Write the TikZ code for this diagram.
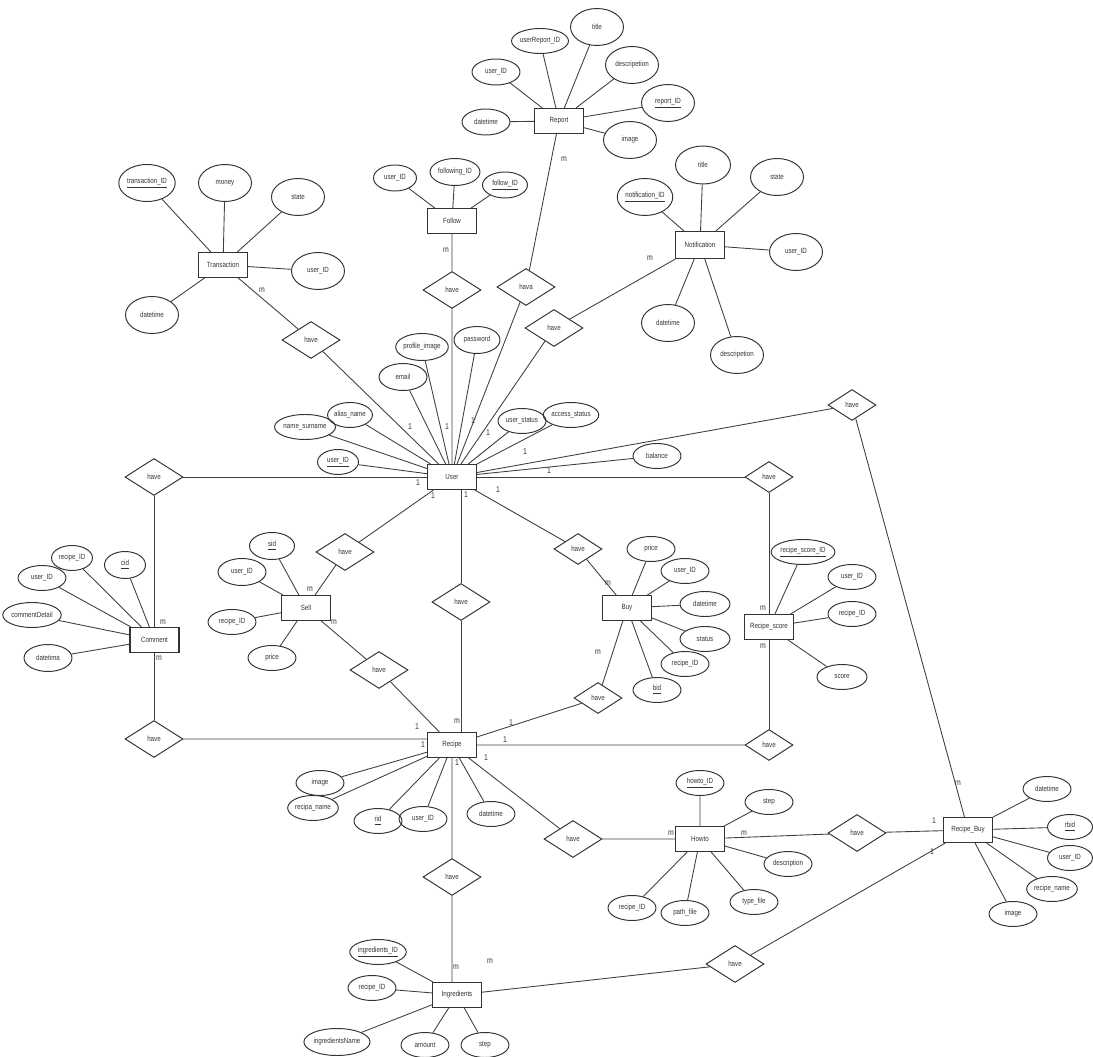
\documentclass[tikz,border=0pt]{standalone}
\usepackage{fontspec}
\usepackage{tikz}
\usetikzlibrary{shapes.geometric}
\newfontfamily\erfont[FakeStretch=0.82]{Liberation Sans}
\newcommand{\pk}[1]{\underline{#1}}

\begin{document}
\begin{tikzpicture}[x=0.02cm,y=-0.02cm,
    every node/.style={font=\erfont\fontsize{4.3}{5}\selectfont,text=black!80},
    entity/.style={draw=black!80,line width=0.6pt,rectangle,
                   minimum width=0.98cm,minimum height=0.5cm,inner sep=0pt},
    attr/.style={draw=black!80,line width=0.55pt,ellipse,
                 minimum width=0.96cm,minimum height=0.5cm,inner sep=0pt},
    bigattr/.style={attr,minimum width=1.06cm,minimum height=0.74cm},
    rel/.style={draw=black!80,line width=0.55pt,diamond,
                minimum width=1.16cm,minimum height=0.74cm,inner sep=0pt},
    smallrel/.style={rel,minimum width=0.96cm,minimum height=0.62cm},
    card/.style={inner sep=0pt,font=\erfont\fontsize{4.8}{5}\selectfont},
    conn/.style={draw=black!75,line width=0.5pt}]
  \useasboundingbox (0,0) rectangle (1093,1057);

  % Transaction
  \node[entity](trans) at (223,265){Transaction};
  \node[bigattr](transid) at (147,183){\pk{transaction\_ID}};
  \node[bigattr](transmoney) at (225,183){money};
  \node[bigattr](transstate) at (298,197){state};
  \node[bigattr](transuser) at (318,271){user\_ID};
  \node[bigattr](transdate) at (152,315){datetime};
  \node[rel](htrans) at (311,340){have};
  \draw[conn](trans)--(transid) (trans)--(transmoney) (trans)--(transstate)
    (trans)--(transuser) (trans)--(transdate) (trans)--(htrans);

  % Report
  \node[entity](report) at (559,121){Report};
  \node[attr,minimum height=0.52cm](repuser) at (496,72){user\_ID};
  \node[attr,minimum width=0.98cm](repuid) at (540,41){userReport\_ID};
  \node[bigattr](reptitle) at (597,27){title};
  \node[bigattr](repdesc) at (632,65){descripetion};
  \node[bigattr](repid) at (668,103){\pk{report\_ID}};
  \node[bigattr](repimg) at (630,140){image};
  \node[attr,minimum height=0.52cm](repdate) at (486,122){datetime};
  \node[rel](hreport) at (526,287){hava};
  \draw[conn](report)--(repuser) (report)--(repuid) (report)--(reptitle)
    (report)--(repdesc) (report)--(repid) (report)--(repimg)
    (report)--(repdate) (report)--(hreport);

  % Follow
  \node[entity](follow) at (452,221){Follow};
  \node[attr,minimum width=0.86cm,minimum height=0.52cm](foluser) at (395,178){user\_ID};
  \node[attr,minimum width=1cm,minimum height=0.54cm](folingid) at (455,172){following\_ID};
  \node[attr,minimum width=0.9cm,minimum height=0.52cm](folid) at (505,185){\pk{follow\_ID}};
  \node[rel](hfollow) at (452,290){have};
  \draw[conn](follow)--(foluser) (follow)--(folingid) (follow)--(folid)
    (follow)--(hfollow);

  % Notification
  \node[entity,minimum height=0.54cm](notif) at (700,245){Notification};
  \node[bigattr](notifid) at (645,197){\pk{notification\_ID}};
  \node[bigattr,minimum width=1.1cm,minimum height=0.76cm](notiftitle) at (703,165){title};
  \node[bigattr](notifstate) at (777,177){state};
  \node[bigattr](notifuser) at (796,252){user\_ID};
  \node[bigattr](notifdate) at (668,323){datetime};
  \node[bigattr](notifdesc) at (737,355){descripetion};
  \node[rel](hnotif) at (554,328){have};
  \draw[conn](notif)--(notifid) (notif)--(notiftitle) (notif)--(notifstate)
    (notif)--(notifuser) (notif)--(notifdate) (notif)--(notifdesc)
    (notif)--(hnotif);

  % User
  \node[entity](user) at (452,477){User};
  \node[attr](username) at (305,427){name\_surname};
  \node[attr,minimum width=0.82cm](useralias) at (350,415){alias\_name};
  \node[attr,minimum width=0.82cm](userid) at (338,462){\pk{user\_ID}};
  \node[attr,minimum height=0.54cm](usermail) at (403,377){email};
  \node[attr,minimum height=0.54cm](userimg) at (422,347){profile\_image};
  \node[attr,minimum width=0.92cm,minimum height=0.54cm](userpass) at (477,340){password};
  \node[attr](userstat) at (522,421){user\_status};
  \node[attr](useracc) at (571,415){access\_status};
  \node[attr](userbal) at (657,456){balance};
  \draw[conn](user)--(username) (user)--(useralias) (user)--(userid)
    (user)--(usermail) (user)--(userimg) (user)--(userpass)
    (user)--(userstat) (user)--(useracc) (user)--(userbal);
  \draw[conn](user)--(htrans) (user)--(hreport) (user)--(hnotif)
    (user)--(hfollow);

  % Comment
  \node[rel](hcom) at (154,477){have};
  \node[entity](comment) at (154.5,640){Comment};
  \node[attr](comuser) at (42,578){user\_ID};
  \node[attr,minimum width=0.82cm](comrecipe) at (72,558){recipe\_ID};
  \node[attr,minimum width=0.82cm,minimum height=0.54cm](comid) at (125,565){\pk{cid}};
  \node[attr](comdetail) at (32,615){commentDetail};
  \node[attr,minimum height=0.54cm](comdate) at (48,658){datetima};
  \node[rel](hcr) at (154,739){have};
  \draw[conn](comment)--(comuser) (comment)--(comrecipe) (comment)--(comid)
    (comment)--(comdetail) (comment)--(comdate);
  \draw[conn](user)--(hcom) (hcom)--(hcom |- comment.north)
    (comment.south -| hcr)--(hcr);

  % Sell
  \node[rel](hsell) at (345,552){have};
  \node[entity](sell) at (306,608){Sell};
  \node[attr,minimum width=0.9cm,minimum height=0.54cm](sellid) at (272,546){\pk{sid}};
  \node[attr,minimum height=0.54cm](selluser) at (242,572){user\_ID};
  \node[attr](sellrecipe) at (232,622){recipe\_ID};
  \node[attr](sellprice) at (272,658){price};
  \node[rel](hsr) at (379,670){have};
  \draw[conn](sell)--(sellid) (sell)--(selluser) (sell)--(sellrecipe)
    (sell)--(sellprice);
  \draw[conn](user)--(hsell) (hsell)--(sell) (sell)--(hsr);

  % Buy
  \node[smallrel](hbuy) at (578,549){have};
  \node[entity](buy) at (627,608){Buy};
  \node[attr](buyprice) at (651,549){price};
  \node[attr](buyuser) at (685,571){user\_ID};
  \node[attr,minimum width=1cm](buydate) at (705,604){datetime};
  \node[attr,minimum width=1cm](buystat) at (705,639){status};
  \node[attr](buyrecipe) at (685,664){recipe\_ID};
  \node[attr](buyid) at (657,690){\pk{bid}};
  \node[smallrel](hbr) at (598,698){have};
  \draw[conn](buy)--(buyprice) (buy)--(buyuser) (buy)--(buydate)
    (buy)--(buystat) (buy)--(buyrecipe) (buy)--(buyid);
  \draw[conn](user)--(hbuy) (hbuy)--(buy) (buy)--(hbr);

  % Recipe_score
  \node[smallrel](hrs) at (769,477){have};
  \node[entity](rscore) at (769,627){Recipe\_score};
  \node[attr](rsid) at (803,552){\pk{recipe\_score\_ID}};
  \node[attr](rsuser) at (852,577){user\_ID};
  \node[attr](rsrecipe) at (852,614){recipe\_ID};
  \node[attr,minimum width=1cm](rsscore) at (842,677){score};
  \node[smallrel](hrr) at (769,745){have};
  \draw[conn](rscore)--(rsid) (rscore)--(rsuser) (rscore)--(rsrecipe)
    (rscore)--(rsscore);
  \draw[conn](user)--(hrs) (hrs)--(rscore) (rscore)--(hrr);

  % Recipe
  \node[entity](recipe) at (452,745){Recipe};
  \node[attr](recimg) at (320,783){image};
  \node[attr](recname) at (313,808){recipa\_name};
  \node[attr](recid) at (378,821){\pk{rid}};
  \node[attr](recuser) at (423,819){user\_ID};
  \node[attr](recdate) at (491,814){datetime};
  \node[rel](hur) at (461,602){have};
  \draw[conn](recipe)--(recimg) (recipe)--(recname) (recipe)--(recid)
    (recipe)--(recuser) (recipe)--(recdate);
  \draw[conn](user.south -| hur)--(hur) (hur)--(recipe.north -| hur);
  \draw[conn](hsr)--(recipe) (hbr)--(recipe) (hcr)--(hcr -| recipe.west)
    (hrr)--(hrr -| recipe.east);

  % Howto
  \node[rel](hrh) at (573,839){have};
  \node[entity](howto) at (700,839){Howto};
  \node[attr](howid) at (700,783){\pk{howto\_ID}};
  \node[attr](howstep) at (769,802){step};
  \node[attr](howdesc) at (788,864){description};
  \node[attr](howtype) at (754,902){type\_file};
  \node[attr](howpath) at (685,913){path\_file};
  \node[attr](howrecipe) at (632,908){recipe\_ID};
  \draw[conn](howto)--(howid) (howto)--(howstep) (howto)--(howdesc)
    (howto)--(howtype) (howto)--(howpath) (howto)--(howrecipe);
  \draw[conn](recipe)--(hrh) (hrh)--(howto);

  % Recipe_Buy
  \node[rel](hhb) at (857,833){have};
  \node[entity](rbuy) at (968,830){Recipe\_Buy};
  \node[attr](rbdate) at (1047,789){datetime};
  \node[attr,minimum width=0.9cm](rbid) at (1070,827){\pk{rbid}};
  \node[attr,minimum width=0.9cm](rbuser) at (1070,858){user\_ID};
  \node[attr](rbname) at (1052,889){recipe\_name};
  \node[attr](rbimg) at (1013,914){image};
  \node[smallrel](hub) at (852,405){have};
  \draw[conn](rbuy)--(rbdate) (rbuy)--(rbid) (rbuy)--(rbuser)
    (rbuy)--(rbname) (rbuy)--(rbimg);
  \draw[conn](howto)--(hhb) (hhb)--(rbuy) (user)--(hub) (hub)--(rbuy);

  % Ingredients
  \node[rel](hri) at (452,877){have};
  \node[entity](ingr) at (457,995){Ingredients};
  \node[attr](ingid) at (378,952){\pk{ingredients\_ID}};
  \node[attr](ingrecipe) at (372,988){recipe\_ID};
  \node[attr,minimum width=1.16cm,minimum height=0.54cm](ingname) at (337,1042){ingredientsName};
  \node[attr](ingamount) at (425,1045){amount};
  \node[attr](ingstep) at (485,1045){step};
  \node[rel](hib) at (735,964){have};
  \draw[conn](ingr)--(ingid) (ingr)--(ingrecipe) (ingr)--(ingname)
    (ingr)--(ingamount) (ingr)--(ingstep);
  \draw[conn](recipe)--(hri) (hri)--(hri |- ingr.north) (ingr)--(hib)
    (hib)--(rbuy);

  % cardinalities
  \node[card](ctrans) at (262,290){m};
  \node[card](creport) at (564,159){m};
  \node[card](cfollow) at (446,250){m};
  \node[card](cnotif) at (650,258){m};
  \node[card](cu1) at (410,427){1};
  \node[card](cu2) at (447,427){1};
  \node[card](cu3) at (473,421){1};
  \node[card](cu4) at (488,433){1};
  \node[card](cu5) at (525,452){1};
  \node[card](cu6) at (549,471){1};
  \node[card](cu7) at (418,483){1};
  \node[card](cu8) at (433,496){1};
  \node[card](cu9) at (466,495){1};
  \node[card](cu10) at (498,490){1};
  \node[card](ccom1) at (163,622){m};
  \node[card](ccom2) at (159,658){m};
  \node[card](csell1) at (310,589){m};
  \node[card](csell2) at (334,622){m};
  \node[card](cbuy1) at (608,583){m};
  \node[card](cbuy2) at (598,652){m};
  \node[card](crs1) at (763,608){m};
  \node[card](crs2) at (763,646){m};
  \node[card](crm) at (457,721){m};
  \node[card](cr1) at (417,727){1};
  \node[card](cr2) at (423,745){1};
  \node[card](cr3) at (457,763){1};
  \node[card](cr4) at (486,758){1};
  \node[card](cr5) at (505,740){1};
  \node[card](cr6) at (511,723){1};
  \node[card](chow1) at (671,833){m};
  \node[card](chow2) at (744,833){m};
  \node[card](crb1) at (958,783){m};
  \node[card](crb2) at (934,821){1};
  \node[card](crb3) at (932,852){1};
  \node[card](cing1) at (456,967){m};
  \node[card](cing2) at (490,961){m};
\end{tikzpicture}
\end{document}
